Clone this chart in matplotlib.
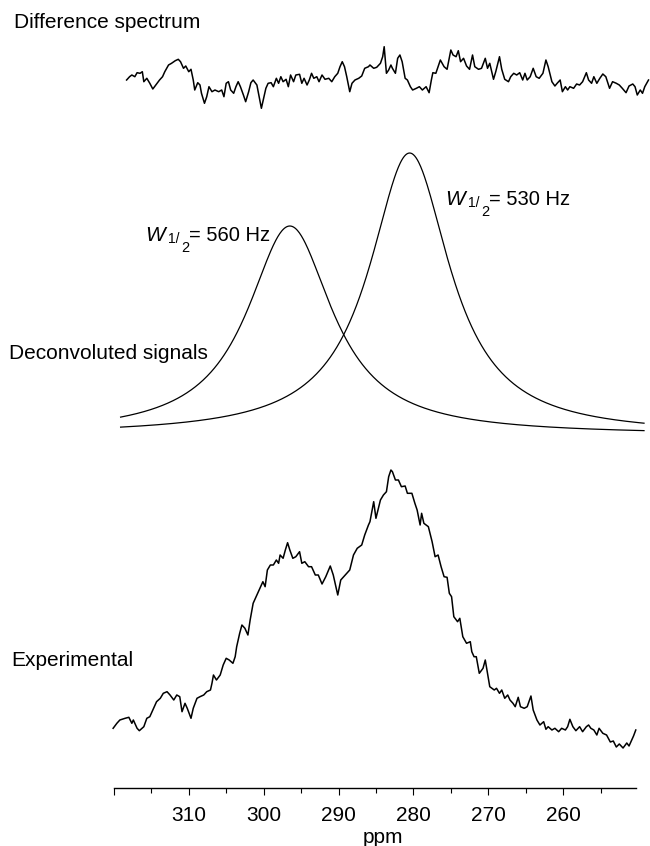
import numpy as np
import matplotlib
matplotlib.use("Agg")
import matplotlib.pyplot as plt
from matplotlib.transforms import offset_copy

plt.rcParams["font.family"] = ["Liberation Sans", "DejaVu Sans"]

# experimental spectrum: shift (ppm) and intensity (a.u.)
exp_ppm = [320.1, 319.6, 319.2, 318.5, 318.0, 317.6, 317.4, 316.9, 316.6, 316.0,
           315.6, 315.2, 314.7, 314.3, 313.8, 313.4, 312.9, 312.5, 312.0, 311.6,
           311.2, 310.9, 310.5, 310.2, 309.7, 309.4, 308.9, 308.5, 308.0, 307.6,
           307.1, 306.9, 306.7, 306.3, 305.8, 305.4, 305.0, 304.6, 304.1, 303.8,
           303.6, 303.2, 302.9, 302.5, 302.1, 301.8, 301.4, 300.9, 300.5, 300.1,
           299.8, 299.5, 299.1, 298.7, 298.3, 298.0, 297.8, 297.4, 297.1, 296.8,
           296.5, 296.1, 295.7, 295.2, 294.9, 294.5, 294.0, 293.6, 293.1, 292.7,
           292.2, 291.7, 291.1, 290.7, 290.1, 289.7, 289.1, 288.5, 288.0, 287.5,
           286.9, 286.5, 286.0,
           285.8, 285.3, 285.0, 284.4, 284.0, 283.6, 283.3, 283.0, 282.8, 282.4,
           282.0, 281.6, 281.1, 280.8, 280.2, 279.8, 279.5, 279.1, 278.9, 278.6,
           278.0, 277.5, 277.1, 276.7, 276.3, 275.9, 275.5, 275.2, 274.9, 274.6,
           274.1, 273.8, 273.4, 272.9, 272.4, 272.2, 271.9, 271.6, 271.2, 270.7,
           270.4, 270.1, 269.8, 269.2, 268.9, 268.5, 268.2, 267.8, 267.4, 267.1,
           266.7, 266.4, 266.0, 265.7, 265.2, 264.8, 264.3, 264.0, 263.5, 263.1,
           262.6, 262.3, 262.0, 261.5, 261.1, 260.6, 260.2, 259.7, 259.4, 259.1,
           258.7, 258.3, 257.8, 257.4, 256.9, 256.6, 256.3, 255.9, 255.5, 255.2,
           254.7, 254.2, 253.7, 253.3, 252.9, 252.5, 252.0, 251.5, 251.2, 250.6,
           250.3]
exp_int = [21.7, 26.7, 30, 31.7, 32.7, 26.7, 30, 21.7, 19.3, 23.3,
           31.7, 33.3, 41.7, 48.3, 51.7, 56.7, 58.3, 55, 50, 55,
           53.3, 38.3, 46.7, 41.7, 31.7, 41.7, 51.7, 53.3, 55, 58.3,
           60, 66.7, 75, 70, 75, 85, 91.7, 90, 86.7, 93.3,
           103.3, 116.7, 125, 121.7, 115, 130, 146.7, 155, 161.7, 168.3,
           163.3, 180, 185, 185, 190, 186.7, 195, 191.7, 200, 207.3,
           200, 191.7, 193.3, 198.3, 186.7, 188.3, 183.3, 183.3, 175, 175,
           166, 173.3, 184, 175, 155, 170, 175, 180, 195, 201.7,
           205, 215, 225,
           228.3, 248.3, 231.7, 250, 255, 258.3, 273.3, 280, 278.3, 270,
           270, 263.3, 264, 256.7, 256.7, 246.7, 240, 225, 236.7, 226.7,
           223.3, 208.3, 193.3, 195, 183.3, 173.3, 172.7, 156.7, 153.3, 133.3,
           128.3, 131.7, 113.3, 106.7, 108.3, 98.3, 93.3, 93.3, 76.7, 81.7,
           90, 76.7, 63.3, 60, 61.7, 56.7, 60, 51.7, 55, 50,
           46.7, 43.3, 52.7, 43.3, 41.7, 43.3, 54, 40, 30, 25,
           28.3, 20.7, 23.3, 20, 21.7, 18.3, 21.7, 20, 23.3, 30.7,
           23.3, 19.3, 23.3, 18.3, 23.3, 25, 21.7, 20, 15, 21.7,
           16.7, 15, 8, 9, 3, 6, 2, 7, 4, 14,
           20]

# difference spectrum (experimental minus fit)
diff_ppm = [318.3, 317.9, 317.6, 317.2, 316.9, 316.5, 316.2, 316.0, 315.6, 315.2,
            314.8, 314.4, 313.9, 313.5, 313.2, 312.7, 312.3, 311.8, 311.4, 311.1,
            310.7, 310.4, 310.0, 309.7, 309.4, 309.2, 308.8, 308.5, 308.3, 307.9,
            307.6, 307.3, 306.9, 306.5, 306.0, 305.6, 305.3, 305.0, 304.7, 304.4,
            304.0, 303.7, 303.4, 303.1, 302.7, 302.4, 302.0, 301.7, 301.4, 300.9,
            300.6, 300.3, 300.0, 299.7, 299.4, 299.0, 298.7, 298.3, 298.0, 297.7,
            297.4, 297.0, 296.7, 296.4, 296.0, 295.7, 295.2, 294.9, 294.6, 294.2,
            293.9, 293.6, 293.3, 292.9, 292.6, 292.2, 291.8, 291.3, 290.9, 290.5,
            290.1, 289.8, 289.5, 289.2, 288.9, 288.5, 288.2, 287.8, 287.3, 286.9,
            286.5, 286.0,
            285.8, 285.3, 284.9, 284.4, 284.1, 283.9, 283.6, 283.3, 283.0, 282.8,
            282.4, 282.1, 281.8, 281.5, 281.1, 280.8, 280.4, 280.1, 279.6, 279.2,
            278.8, 278.3, 277.9, 277.6, 277.4, 277.0, 276.4, 275.9, 275.5, 275.0,
            274.7, 274.3, 274.0, 273.7, 273.3, 272.9, 272.5, 272.1, 271.8, 271.3,
            270.9, 270.4, 270.1, 269.8, 269.3, 269.0, 268.5, 268.2, 267.8, 267.3,
            267.0, 266.6, 266.2, 265.8, 265.4, 265.1, 264.8, 264.4, 264.0, 263.6,
            263.2, 262.7, 262.3, 262.0, 261.5, 261.1, 260.8, 260.4, 260.1, 259.7,
            259.4, 259.1, 258.6, 258.2, 257.8, 257.4, 256.9, 256.6, 256.2, 255.9,
            255.5, 255.1, 254.7, 254.3, 253.8, 253.4, 252.9, 252.5, 252.1, 251.6,
            251.2, 250.7, 250.4, 250.1, 249.7, 249.4, 249.1, 248.6]
diff_int = [0, 3.3, 5, 3.3, 7.3, 6.7, 8.3, -1.7, 1.7, -3.3,
            -9, -5, 0, 3.3, 8.3, 15, 16.7, 19.3, 20.7, 18.3,
            11.7, 14, 8.3, 10.7, 0, -10, -2.7, -5, -13.3, -23.3,
            -16.7, -6.7, -11.7, -10, -11.7, -10, -16.7, -3.3, -1.7, -10,
            -13.3, -6.7, -1.7, -6.7, -15, -21.7, -11.7, -2.7, 0, -5,
            -16.7, -28.3, -18.3, -8.3, -3.3, -2.7, -6.7, 1.7, -3.3, 3.3,
            -1.7, 0.7, -6.7, 5, -1.7, 5, 5.7, -3.3, 1.7, -5,
            0, 6.7, 1.7, 3.3, -1.7, 5, 0.7, 1.7, -1.7, 3.3,
            6.7, 13.3, 18.3, 13.3, 3.3, -11.7, -3.3, 0, 1.7, 4,
            11.7, 13.3,
            15, 11.7, 12.7, 16.7, 23.3, 33.3, 6.7, 10, 15, 11.7,
            6.7, 21.7, 25, 18.3, 1.7, 0, -6.7, -10, -8.3, -6.7,
            -10, -6.7, -12.7, 0, 7.3, 6.7, 20, 13.3, 10.7, 30,
            25, 23.3, 29.3, 18.3, 21.7, 14, 10.7, 25, 13.3, 10.7,
            11.7, 21.7, 11.7, 16.7, 0.7, 8.3, 23.3, 10.7, 0.7, -1.7,
            3.3, 6.7, 5, 7.3, 0, 6.7, 0, 3.3, 11.7, 3.3,
            1.7, 6.7, 20, 13.3, -1.7, -6, -3.3, 0, -11.7, -6.7,
            -10, -6.7, -8.3, -4, -5, -1.7, 7.3, 0, -3.3, 3.3,
            -3.3, 1.7, 6, 3.3, -8.3, -1.7, -3.3, -5, -8.3, -12.7,
            -6, -4, -6.7, -15, -10, -13.3, -6.7, 0]

# deconvoluted Lorentzian components
peak_ppm = [296.5, 280.5]
peak_height = [209, 282]
peak_w_hz = [560, 530]
obs_freq_mhz = 40.5
fit_from, fit_to = 319.1, 249.2
# where the width labels sit (ppm, height above the axis)
label_pos = [(315.8, 547), (275.8, 583)]

# vertical offsets of the stacked traces
EXP_BASE = 38
FIT_BASE = 353
DIFF_BASE = 708

W, H = 650, 846
fig = plt.figure(figsize=(W / 100, H / 100), dpi=100)
ax = fig.add_axes([112 / W, 1 - 788 / H, 538 / W, 788 / H])
ax.set_xlim(320.25, 248.4)
ax.set_ylim(0, 788)

ax.plot(exp_ppm, np.array(exp_int) + EXP_BASE, color="black", lw=1.1)
ax.plot(diff_ppm, np.array(diff_int) + DIFF_BASE, color="black", lw=1.1)

x = np.linspace(fit_from, fit_to, 800)
for c, h, w in zip(peak_ppm, peak_height, peak_w_hz):
    hw = w / obs_freq_mhz / 2.0
    ax.plot(x, FIT_BASE + h / (1 + ((x - c) / hw) ** 2), color="black", lw=0.9)


def width_label(px, py, w_hz):
    # W with a stepped 1/2 subscript, pieces placed in pixels from the start
    def piece(dx, dy, s, size, **kw):
        tr = offset_copy(ax.transData, fig=fig, x=dx, y=dy, units="dots")
        ax.text(px, py, s, transform=tr, fontsize=size, ha="left",
                va="baseline", **kw)
    piece(0, 0, "W", 15, style="italic")
    piece(23, -2, "1/", 10)
    piece(36, -11, "2", 10.5)
    piece(44, 0, f"= {w_hz} Hz", 14.5)


for (px, py), w in zip(label_pos, peak_w_hz):
    width_label(px, py, w)

for s in ["left", "right", "top"]:
    ax.spines[s].set_visible(False)
ax.spines["bottom"].set_bounds(320, 250.3)
ax.spines["bottom"].set_linewidth(1.0)
ax.set_yticks([])
ax.set_xticks([320, 310, 300, 290, 280, 270, 260])
ax.set_xticklabels(["", "310", "300", "290", "280", "270", "260"])
ax.set_xticks(np.arange(315, 254, -10), minor=True)
ax.tick_params(axis="x", which="major", length=5, width=0.8, pad=8, labelsize=15)
ax.tick_params(axis="x", which="minor", length=3.5, width=0.8)

fig.text(14.5 / W, 1 - 28 / H, "Difference spectrum", fontsize=15, va="baseline")
fig.text(9 / W, 1 - 359 / H, "Deconvoluted signals", fontsize=15, va="baseline")
fig.text(11.6 / W, 1 - 666 / H, "Experimental", fontsize=15, va="baseline")
fig.text(383 / W, 1 - 843 / H, "ppm", fontsize=15, ha="center", va="baseline")

fig.savefig("out.png", dpi=100)
